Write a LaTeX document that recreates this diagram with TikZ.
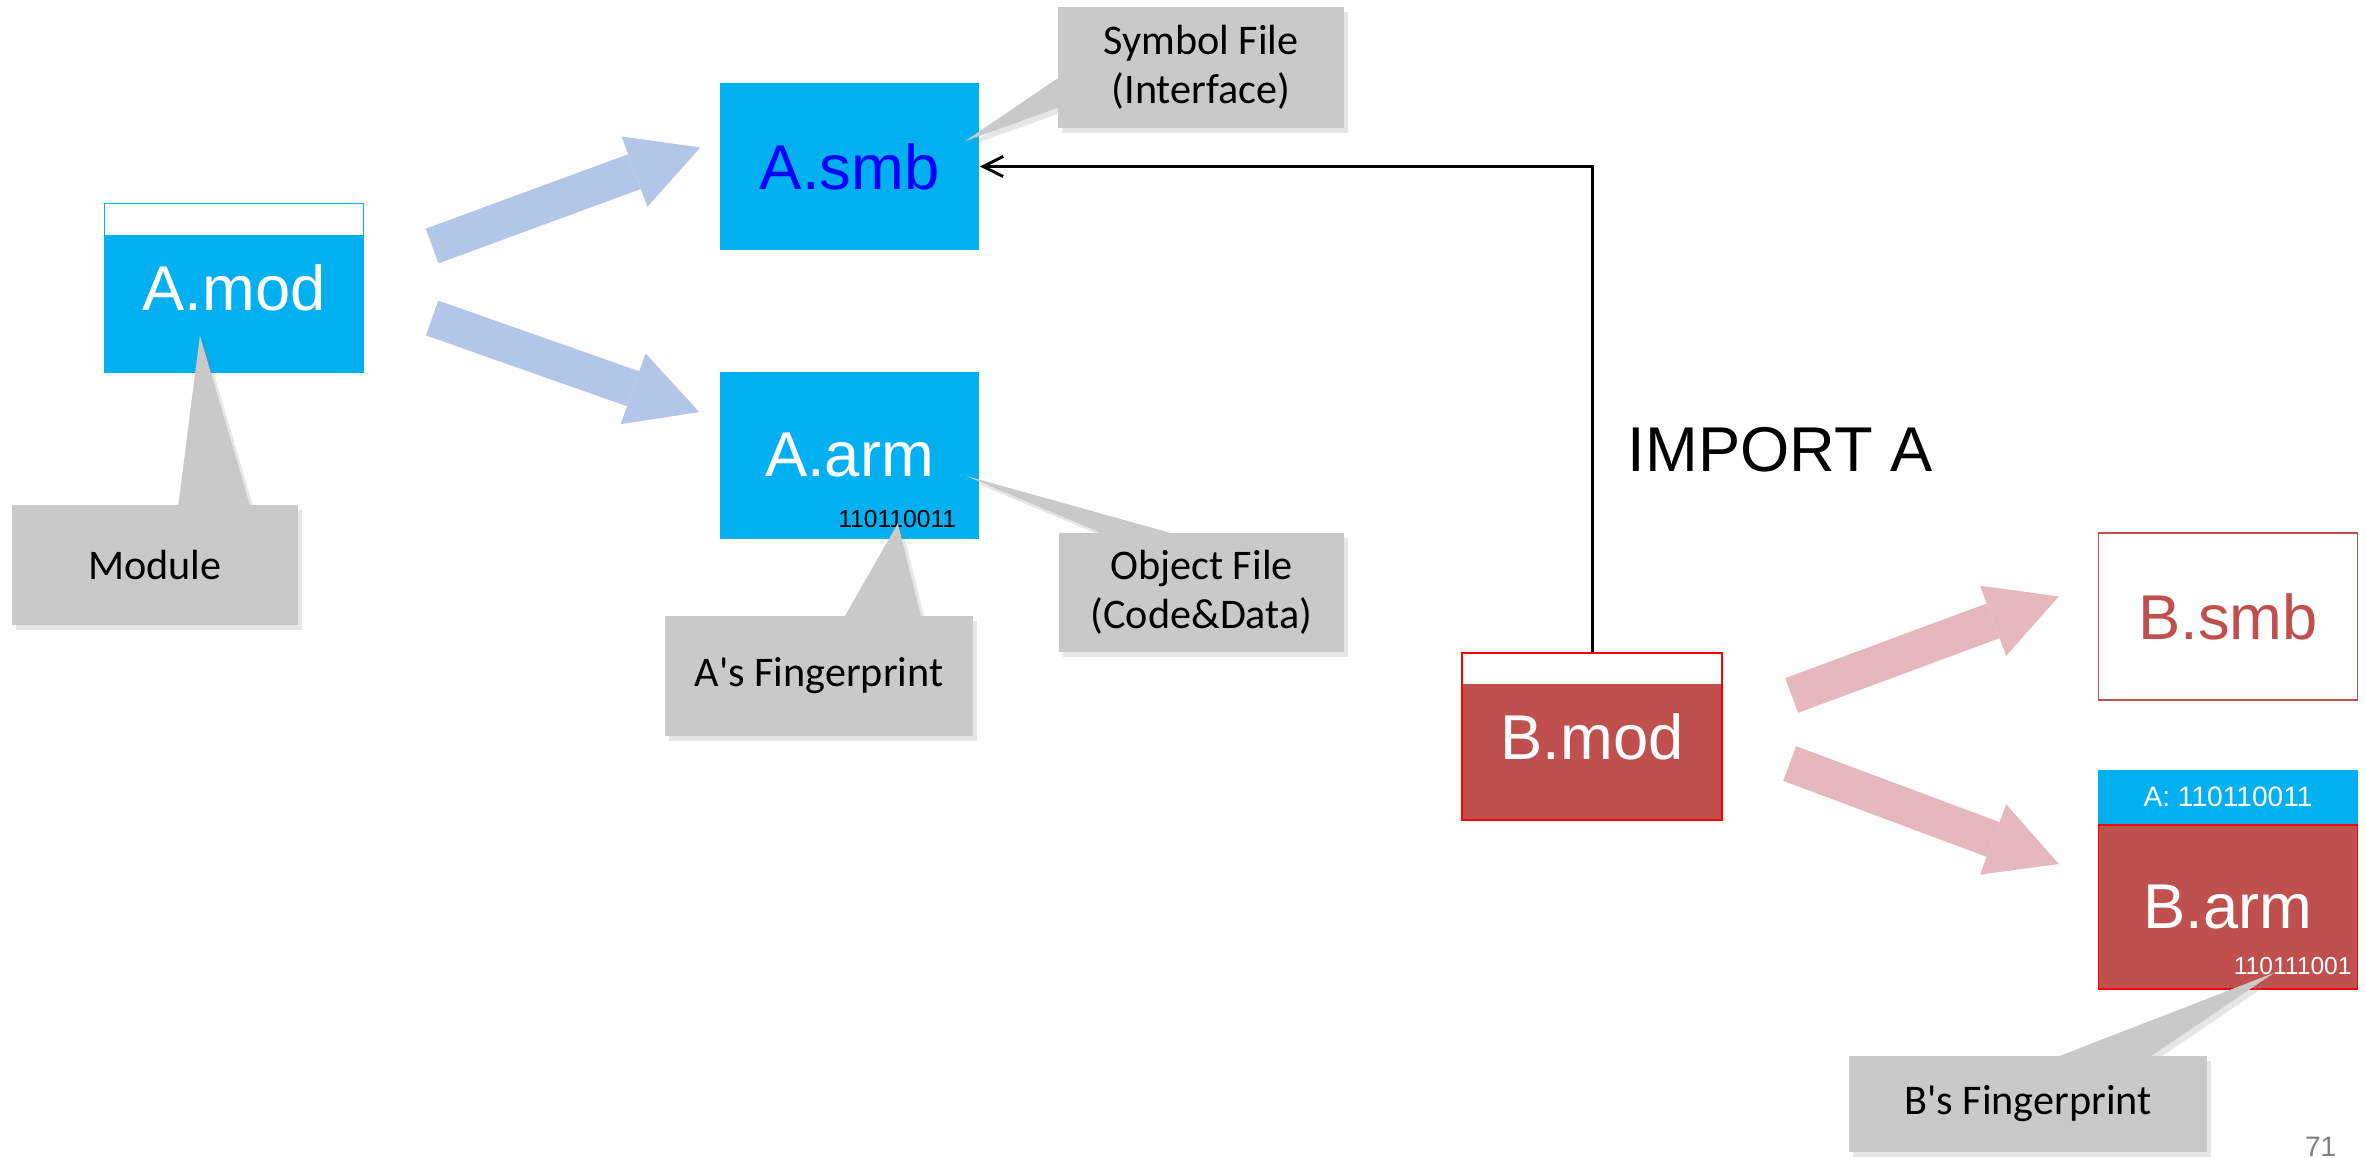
\documentclass[tikz,border=0pt]{standalone}
\usepackage{fontspec}
\setmainfont{Liberation Sans}
\newfontfamily\notefont{Carlito}
\usetikzlibrary{arrows.meta,positioning,shadows}

\definecolor{fileblue}{HTML}{00B0F0}
\definecolor{filered}{HTML}{C0504D}
\definecolor{flowblue}{HTML}{B4C6E7}
\definecolor{flowpink}{HTML}{E6B8BE}
\definecolor{notegray}{HTML}{C9C9C9}

% callout pointers sit above the files, callout boxes above the pointers
\pgfdeclarelayer{tips}
\pgfdeclarelayer{notes}
\pgfsetlayers{main,tips,notes}

\begin{document}
\begin{tikzpicture}[x=0.01cm, y=-0.01cm,
  file/.style={minimum width=2.59cm, minimum height=1.67cm, inner sep=0pt,
               font=\fontsize{18}{21}\selectfont, text=white},
  modfile/.style={file, fill=white,
    path picture={\fill[#1] ([yshift=-0.31cm]path picture bounding box.north west)
                  rectangle (path picture bounding box.south east);}},
  print/.style={inner sep=0pt, anchor=base east, font=\fontsize{7}{8}\selectfont},
  flow/.style={line width=0.37cm,
               -{Triangle[length=0.7cm, width=0.75cm, line width=0pt]}},
  note/.style={fill=notegray, minimum height=1.2cm, inner sep=0pt, align=center,
               font=\notefont\fontsize{12}{14}\selectfont,
               drop shadow={shadow xshift=1.2pt, shadow yshift=-1.3pt, opacity=.2}},
  tip/.style={fill=notegray,
              drop shadow={shadow xshift=1.2pt, shadow yshift=-1.3pt, opacity=.2}}]
\useasboundingbox (0,0) rectangle (2366,1157);

% module A and what it compiles to
\node[modfile=fileblue, draw=fileblue, line width=0.3pt, minimum height=1.68cm] (amod) at (234,288) {A.mod};
\node[file, fill=fileblue, text=blue] (asmb) at (849.5,166.5) {A.smb};
\node[file, fill=fileblue, below=1.2cm of asmb] (aarm) {A.arm};
\node[print] (aprint) at ([shift={(-23,-12)}]aarm.south east) {110110011};

\draw[flow, flowblue] ([shift={(68,-42)}]amod.east) -- ([shift={(-19,-19)}]asmb.west);
\draw[flow, flowblue] ([shift={(68,30)}]amod.east) -- ([shift={(-20,-43)}]aarm.west);

% module B imports A
\node[modfile=filered, draw=red, line width=0.6pt] (bmod) at (1592,736.5) {B.mod};
\node[file, fill=white, draw=filered, line width=0.4pt, text=filered] (bsmb) at (2228,616.5) {B.smb};
\node[file, fill=fileblue, minimum height=0.54cm, font=\fontsize{8}{9}\selectfont,
      below=0.68cm of bsmb] (barmhead) {A: 110110011};
\node[file, fill=filered, draw=red, line width=0.4pt, minimum height=1.64cm,
      below=0pt of barmhead] (barm) {B.arm};
\node[print, text=white] (bprint) at ([shift={(-6,-15)}]barm.south east) {110111001};

\draw[flow, flowpink] ([shift={(69,-41)}]bmod.east) -- ([shift={(-39,-20)}]bsmb.west);
\draw[flow, flowpink] ([shift={(67,27)}]bmod.east) -- ([shift={(-39,-43)}]barm.west);

\draw[line width=0.85pt, -{Straight Barb[length=0.2cm, width=0.2cm]}] (bmod.north) |- (asmb.east);
\node[inner sep=0pt, anchor=base west, font=\fontsize{18}{21}\selectfont]
  (importlbl) at ([shift={(35,-180)}]bmod.north) {IMPORT A};

% callouts
\begin{pgfonlayer}{notes}
\node[note, minimum width=2.86cm] (modnote) at (155,565) {Module};
\node[note, minimum width=2.86cm, minimum height=1.21cm] (symnote) at (1201,67.5) {Symbol File\\(Interface)};
\node[note, minimum width=2.85cm, minimum height=1.19cm] (objnote) at (1201.5,592.5) {Object File\\(Code\&Data)};
\node[note, minimum width=3.08cm] (afpnote) at (819,676) {A\textquotesingle s Fingerprint};
\node[note, minimum width=3.58cm, minimum height=0.96cm] (bfpnote) at (2028,1104) {B\textquotesingle s Fingerprint};
\end{pgfonlayer}

\begin{pgfonlayer}{tips}
\fill[tip] ([shift={(167,2)}]modnote.north west) -- ([shift={(96,-37)}]amod.south west)
  -- ([shift={(239,2)}]modnote.north west) -- cycle;
\fill[tip] ([shift={(2,71)}]symnote.north west) -- ([shift={(-15,59)}]asmb.north east)
  -- ([shift={(2,101)}]symnote.north west) -- cycle;
\fill[tip] ([shift={(46,2)}]objnote.north west) -- ([shift={(-14,105)}]aarm.north east)
  -- ([shift={(117,2)}]objnote.north west) -- cycle;
\fill[tip] ([shift={(180,2)}]afpnote.north west) -- ([shift={(-82,-16)}]aarm.south east)
  -- ([shift={(257,2)}]afpnote.north west) -- cycle;
\fill[tip] ([shift={(208,2)}]bfpnote.north west) -- ([shift={(-84,-17)}]barm.south east)
  -- ([shift={(301,2)}]bfpnote.north west) -- cycle;
\end{pgfonlayer}

\node[inner sep=0pt, anchor=base east, text=gray, font=\fontsize{8}{9}\selectfont]
  (pageno) at (2337,1156) {71};
\end{tikzpicture}
\end{document}
